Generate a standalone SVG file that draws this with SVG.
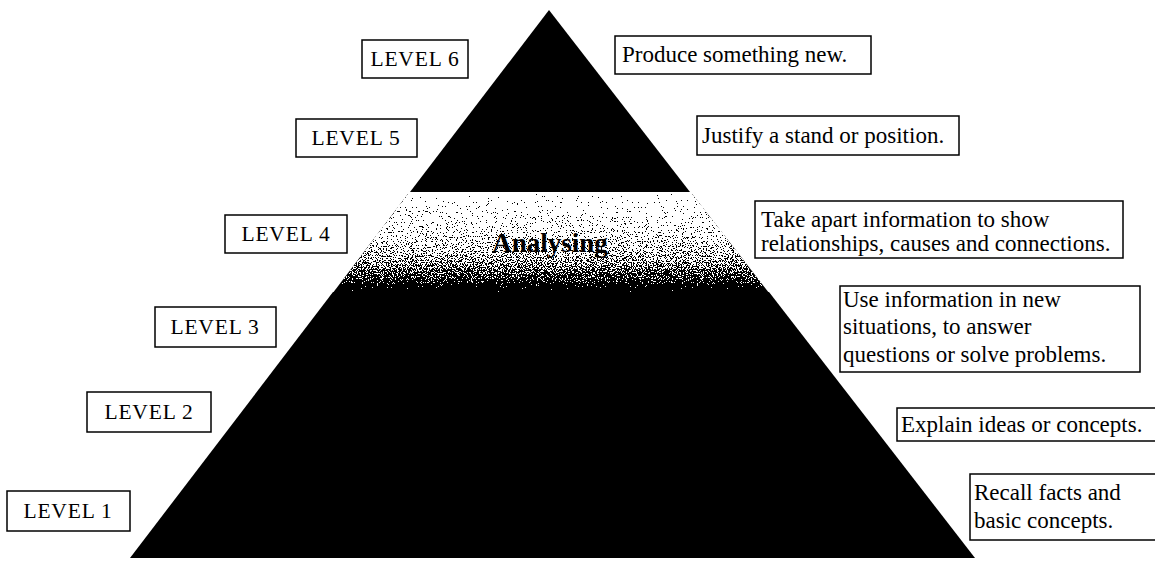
<svg xmlns="http://www.w3.org/2000/svg" width="1155" height="561" viewBox="0 0 1155 561">
<style>
.box{fill:#fff;stroke:#000;stroke-width:1.5}
.lvl{font-family:"Liberation Serif","Times New Roman",serif;font-size:21.5px;letter-spacing:0.8px;fill:#000}
.desc{font-family:"Liberation Serif","Times New Roman",serif;font-size:23px;fill:#000}
.title{font-family:"Liberation Serif","Times New Roman",serif;font-size:27px;font-weight:bold;fill:#000}
</style>
<defs>
<linearGradient id="fade" x1="0" y1="192" x2="0" y2="294" gradientUnits="userSpaceOnUse">
<stop offset="0" stop-color="#fafafa"/>
<stop offset="0.02" stop-color="#f2f2f2"/>
<stop offset="0.225" stop-color="#d9d9d9"/>
<stop offset="0.42" stop-color="#c2c2c2"/>
<stop offset="0.57" stop-color="#a6a6a6"/>
<stop offset="0.715" stop-color="#808080"/>
<stop offset="0.86" stop-color="#4d4d4d"/>
<stop offset="0.97" stop-color="#000"/>
</linearGradient>
<filter id="grain" x="-0.03" y="0" width="1.06" height="1" color-interpolation-filters="sRGB">
<feTurbulence type="fractalNoise" baseFrequency="0.8" numOctaves="2" seed="7" result="n"/>
<feColorMatrix in="n" type="matrix" values="1 0 0 0 0  1 0 0 0 0  1 0 0 0 0  0 0 0 0 1" result="g"/>
<feComposite in="SourceGraphic" in2="g" operator="arithmetic" k1="0" k2="1" k3="1.8" k4="-0.9" result="m"/>
<feComponentTransfer in="m" result="t">
<feFuncR type="discrete" tableValues="0 1"/>
<feFuncG type="discrete" tableValues="0 1"/>
<feFuncB type="discrete" tableValues="0 1"/>
<feFuncA type="linear" slope="0" intercept="1"/>
</feComponentTransfer>
<feComposite in="t" in2="SourceAlpha" operator="in"/>
</filter>
</defs>
<rect width="1155" height="561" fill="#fff"/>

<g id="pyramid">
<polygon id="tier-top" points="549,10 690,192 410,192" fill="#000"/>
<polygon id="tier-analysing" points="408,194 692,194 773,298 329,298" fill="url(#fade)" filter="url(#grain)"/>
<polygon id="tier-bottom" points="333,292 769,292 975,558 130,558" fill="#000"/>
<text class="title" x="550" y="252" text-anchor="middle">Analysing</text>
</g>

<g id="level6"><rect class="box" x="362" y="40" width="106" height="38"/><text class="lvl" x="415" y="66" text-anchor="middle">LEVEL 6</text></g>
<g id="level5"><rect class="box" x="296" y="119" width="121" height="38"/><text class="lvl" x="356" y="145" text-anchor="middle">LEVEL 5</text></g>
<g id="level4"><rect class="box" x="225" y="215" width="122" height="38"/><text class="lvl" x="286" y="241" text-anchor="middle">LEVEL 4</text></g>
<g id="level3"><rect class="box" x="155" y="307" width="121" height="40"/><text class="lvl" x="215" y="334" text-anchor="middle">LEVEL 3</text></g>
<g id="level2"><rect class="box" x="87" y="392" width="124" height="40"/><text class="lvl" x="149" y="419" text-anchor="middle">LEVEL 2</text></g>
<g id="level1"><rect class="box" x="7" y="491" width="123" height="40"/><text class="lvl" x="68" y="518" text-anchor="middle">LEVEL 1</text></g>

<g id="desc6"><rect class="box" x="615" y="36" width="256" height="38"/><text class="desc" x="622" y="62">Produce something new.</text></g>
<g id="desc5"><rect class="box" x="697" y="116" width="262" height="39"/><text class="desc" x="702" y="143">Justify a stand or position.</text></g>
<g id="desc4"><rect class="box" x="755" y="201" width="368" height="57"/><text class="desc" x="761" y="227">Take apart information to show</text><text class="desc" x="761" y="251">relationships, causes and connections.</text></g>
<g id="desc3"><rect class="box" x="840" y="286" width="300" height="86"/><text class="desc" x="843" y="307">Use information in new</text><text class="desc" x="843" y="334">situations, to answer</text><text class="desc" x="843" y="362">questions or solve problems.</text></g>
<g id="desc2"><rect class="box" x="897" y="408" width="263" height="33"/><text class="desc" x="901" y="432">Explain ideas or concepts.</text></g>
<g id="desc1"><rect class="box" x="970" y="474" width="190" height="66"/><text class="desc" x="974" y="500">Recall facts and</text><text class="desc" x="974" y="528">basic concepts.</text></g>

<g id="connectors"/>
</svg>
